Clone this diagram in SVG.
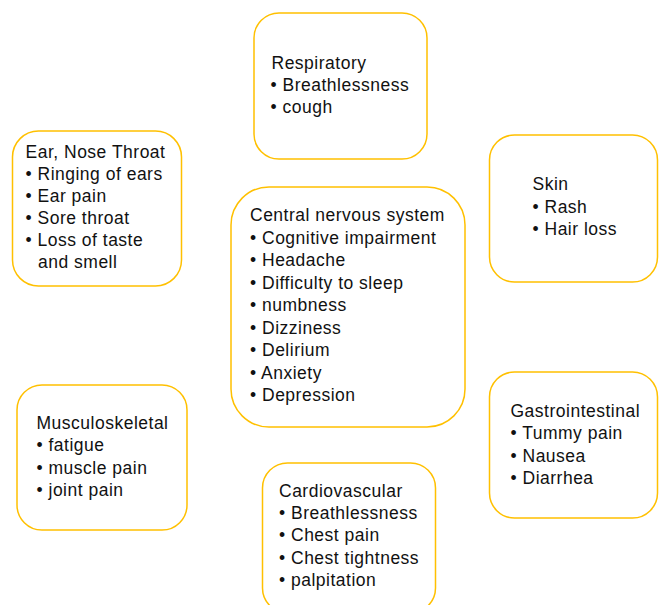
<svg xmlns="http://www.w3.org/2000/svg" width="659" height="605" viewBox="0 0 659 605">
  <style>
    .box { fill: #ffffff; stroke: #ffc000; stroke-width: 1.5; }
    .lbl { font-family: "Liberation Sans", Arial, sans-serif; font-size: 17.5px; letter-spacing: 0.5px; fill: #111111; }
  </style>
  <rect x="0" y="0" width="659" height="605" fill="#ffffff"/>

  <!-- no connectors in this diagram -->
  <g id="connectors"/>

  <g id="respiratory">
    <rect class="box" x="254" y="13" width="173" height="146" rx="25" ry="25"/>
    <text class="lbl" x="271.5" y="69">Respiratory</text>
    <text class="lbl" x="270.5" y="91">• Breathlessness</text>
    <text class="lbl" x="270.5" y="113">• cough</text>
  </g>

  <g id="ent">
    <rect class="box" x="12.5" y="131" width="169" height="155" rx="26" ry="26"/>
    <text class="lbl" x="25.5" y="158">Ear, Nose Throat</text>
    <text class="lbl" x="25.5" y="180">• Ringing of ears</text>
    <text class="lbl" x="25.5" y="202">• Ear pain</text>
    <text class="lbl" x="25.5" y="224">• Sore throat</text>
    <text class="lbl" x="25.5" y="246">• Loss of taste</text>
    <text class="lbl" x="38" y="268">and smell</text>
  </g>

  <g id="cns">
    <rect class="box" x="231" y="187" width="234" height="240" rx="38" ry="38"/>
    <text class="lbl" x="250" y="221">Central nervous system</text>
    <text class="lbl" x="250" y="243.5">• Cognitive impairment</text>
    <text class="lbl" x="250" y="266">• Headache</text>
    <text class="lbl" x="250" y="288.5">• Difficulty to sleep</text>
    <text class="lbl" x="250" y="311">• numbness</text>
    <text class="lbl" x="250" y="333.5">• Dizziness</text>
    <text class="lbl" x="250" y="356">• Delirium</text>
    <text class="lbl" x="250" y="378.5">• Anxiety</text>
    <text class="lbl" x="250" y="401">• Depression</text>
  </g>

  <g id="skin">
    <rect class="box" x="489.5" y="135" width="168" height="147" rx="25" ry="25"/>
    <text class="lbl" x="532.5" y="190">Skin</text>
    <text class="lbl" x="532.5" y="212.5">• Rash</text>
    <text class="lbl" x="532.5" y="235">• Hair loss</text>
  </g>

  <g id="gastrointestinal">
    <rect class="box" x="489.5" y="372" width="168" height="146" rx="25" ry="25"/>
    <text class="lbl" x="510.5" y="416.5">Gastrointestinal</text>
    <text class="lbl" x="510.5" y="439">• Tummy pain</text>
    <text class="lbl" x="510.5" y="461.5">• Nausea</text>
    <text class="lbl" x="510.5" y="484">• Diarrhea</text>
  </g>

  <g id="cardiovascular">
    <rect class="box" x="262.5" y="463" width="173" height="150" rx="25" ry="25"/>
    <text class="lbl" x="279" y="496.5">Cardiovascular</text>
    <text class="lbl" x="279" y="519">• Breathlessness</text>
    <text class="lbl" x="279" y="541">• Chest pain</text>
    <text class="lbl" x="279" y="563.5">• Chest tightness</text>
    <text class="lbl" x="279" y="586">• palpitation</text>
  </g>

  <g id="musculoskeletal">
    <rect class="box" x="17" y="385" width="170" height="145" rx="25" ry="25"/>
    <text class="lbl" x="36.5" y="428.5">Musculoskeletal</text>
    <text class="lbl" x="36.5" y="451">• fatigue</text>
    <text class="lbl" x="36.5" y="473.5">• muscle pain</text>
    <text class="lbl" x="36.5" y="496">• joint pain</text>
  </g>
</svg>
